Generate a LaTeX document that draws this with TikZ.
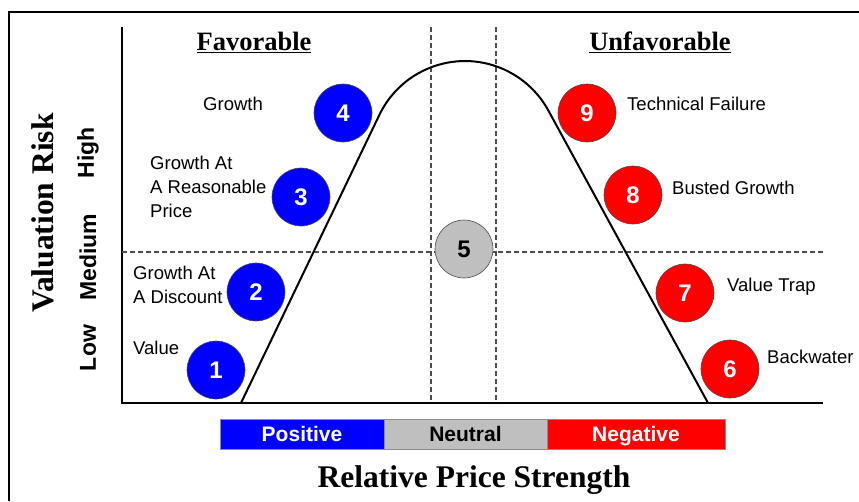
\documentclass[tikz,border=0pt]{standalone}
\usepackage{fontspec}
\setmainfont{Liberation Serif}
\setsansfont{Liberation Sans}
\begin{document}
\begin{tikzpicture}[x=1pt,y=-1pt,
  stage/.style={circle,draw=black!70,line width=0.6pt,minimum size=58pt,inner sep=0pt,
    text=white,font=\sffamily\bfseries\fontsize{24}{24}\selectfont},
  favstage/.style={stage,fill=blue},
  unfavstage/.style={stage,fill=red},
  neutralstage/.style={stage,fill=black!25,text=black},
  lbl/.style={anchor=west,inner sep=0pt,align=left,font=\sffamily\fontsize{18.5}{24}\selectfont},
  head/.style={inner sep=0pt,font=\rmfamily\bfseries\fontsize{26.5}{28}\selectfont},
  axtitle/.style={inner sep=0pt,font=\rmfamily\bfseries\fontsize{31.5}{32}\selectfont},
  level/.style={inner sep=0pt,rotate=90,font=\sffamily\bfseries\fontsize{23}{24}\selectfont},
  barcell/.style={draw=black!45,line width=0.6pt,minimum height=30pt,inner sep=0pt,
    text height=19pt,text depth=4pt,
    font=\sffamily\bfseries\fontsize{21}{21}\selectfont},
  guide/.style={draw=black!70,line width=1.3pt,dash pattern=on 5pt off 3pt}
]
\useasboundingbox (0,0) rectangle (859,501);

% outer frame
\draw[line width=2pt] (8.5,501) -- (8.5,12) -- (859,12);

% axes
\coordinate (ytop) at (122,27);
\coordinate (origin) at (122,403);
\coordinate (xend) at (823,403);
\draw[line width=1.6pt] (ytop) -- (origin) -- (xend);

% dashed guides
\coordinate (midl) at (122,252);
\coordinate (midr) at (823,252);
\coordinate (nlt) at (431,27);
\coordinate (nlb) at (431,403);
\coordinate (nrt) at (496,27);
\coordinate (nrb) at (496,403);
\draw[guide] (midl) -- (midr);
\draw[guide] (nlt) -- (nlb);
\draw[guide] (nrt) -- (nrb);

% price/valuation cycle curve: two straight flanks joined by a round arch
\draw[line width=2pt,line join=round]
  (241,403) -- (379.6,114.4) arc[start angle=154,end angle=28.8,radius=95pt] -- (708,403);

% stages
\node[favstage] (s1) at (216,370) {1};
\node[favstage] (s2) at (256,292) {2};
\node[favstage] (s3) at (301,197) {3};
\node[favstage] (s4) at (343,113) {4};
\node[neutralstage] (s5) at (464,249) {5};
\node[unfavstage] (s6) at (730,369) {6};
\node[unfavstage] (s7) at (685,293) {7};
\node[unfavstage] (s8) at (633,195) {8};
\node[unfavstage] (s9) at (587,113) {9};

% stage labels
\node[lbl] (l1) at (133,348) {Value};
\node[lbl] (l2) at (133,284.5) {Growth At\\A Discount};
\node[lbl] (l3) at (150,186.5) {Growth At\\A Reasonable\\Price};
\node[lbl] (l4) at (203,104) {Growth};
\node[lbl] (l6) at (767,357) {Backwater};
\node[lbl] (l7) at (727,287) {Value Trap};
\node[lbl] (l8) at (672,188) {Busted Growth};
\node[lbl] (l9) at (627,104) {Technical Failure};

% headings
\node[head] (fav) at (254,42) {\underline{Favorable}};
\node[head] (unfav) at (660,42) {\underline{Unfavorable}};

% vertical axis
\node[axtitle,rotate=90] (vr) at (43,213) {Valuation Risk};
\node[level] (hi) at (88,153) {High};
\node[level] (med) at (88,257) {Medium};
\node[level] (lo) at (88,348) {Low};

% horizontal axis bar
\node[barcell,fill=blue,text=white,minimum width=164pt] (bpos) at (302,434) {Positive};
\node[barcell,fill=black!25,text=black,minimum width=163pt] (bneu) at (465.5,434) {Neutral};
\node[barcell,fill=red,text=white,minimum width=178pt] (bneg) at (636,434) {Negative};
\node[axtitle] (rps) at (474,480) {Relative Price Strength};
\end{tikzpicture}
\end{document}
